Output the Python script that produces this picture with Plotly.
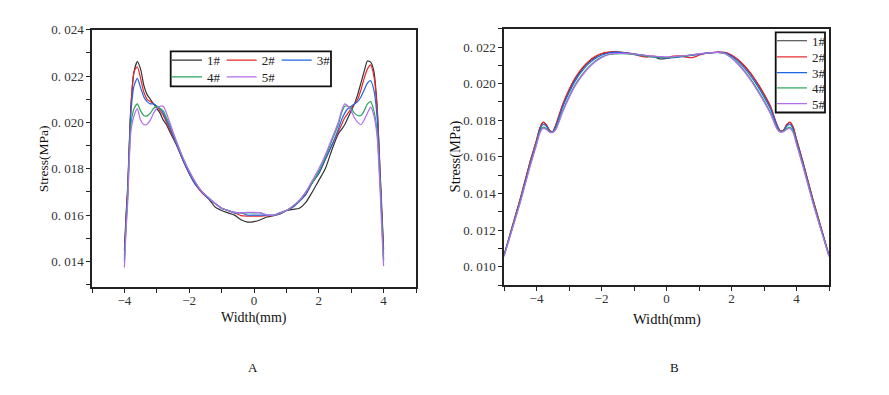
import plotly.graph_objects as go

# page body has an 8px default margin, so the figure is 8px smaller and shifted
PAGE_W, PAGE_H = 889, 395
OFF = 8
W, H = PAGE_W - OFF, PAGE_H - OFF

series_names = ["1#", "2#", "3#", "4#", "5#"]
series_colors = ["#333333", "#e8262b", "#1f64e6", "#2aa55a", "#b26ef0"]

# ---- Panel A ----
x_A = [-4.0, -3.95, -3.9, -3.8, -3.7, -3.6, -3.5, -3.4, -3.3, -3.2, -3.1, -3.0, -2.9, -2.8, -2.7, -2.6,
       -2.4, -2.2, -2.0, -1.8, -1.6, -1.4, -1.2, -1.0, -0.8, -0.6, -0.4, -0.2, 0.0, 0.2, 0.4, 0.6, 0.8,
       1.0, 1.2, 1.4, 1.6, 1.8, 2.0, 2.2, 2.4,
       2.6, 2.7, 2.8, 2.9, 3.0, 3.1, 3.2, 3.3, 3.4, 3.5, 3.6, 3.7, 3.8, 3.9, 3.95, 4.0]

a1 = [0.01446, 0.0160, 0.0172, 0.0207, 0.0222, 0.02262, 0.0223, 0.0216, 0.0212, 0.0210, 0.0208, 0.0206, 0.0204, 0.0201, 0.0199, 0.0196,
      0.01905, 0.0184, 0.0178, 0.01735, 0.0170, 0.0167, 0.01635, 0.0162, 0.0161, 0.0160, 0.0158, 0.0157, 0.01572, 0.0158, 0.01592, 0.01598, 0.0161,
      0.0162, 0.01625, 0.0163, 0.01655, 0.0170, 0.0175, 0.0180, 0.0188,
      0.0195, 0.0197, 0.0199, 0.0202, 0.0205, 0.0208, 0.0212, 0.0217, 0.0222, 0.02265, 0.0226, 0.0222, 0.0207, 0.0176, 0.0161, 0.01451]
a2 = [0.01424, 0.0158, 0.0170, 0.0206, 0.0222, 0.0224, 0.0219, 0.0213, 0.0210, 0.0209, 0.0208, 0.0207, 0.0205, 0.0203, 0.0200, 0.0197,
      0.0191, 0.0184, 0.0178, 0.0173, 0.01695, 0.0167, 0.0165, 0.0163, 0.0162, 0.0161, 0.01598, 0.01596, 0.01596, 0.01596, 0.01598, 0.01598, 0.01605,
      0.0162, 0.01635, 0.0166, 0.0169, 0.0174, 0.0178, 0.0184, 0.0190,
      0.0196, 0.0199, 0.0202, 0.0204, 0.0206, 0.0208, 0.0210, 0.0214, 0.0219, 0.0223, 0.02248, 0.0220, 0.0206, 0.0175, 0.0159, 0.0143]
a3 = [0.0141, 0.0157, 0.0169, 0.0204, 0.0216, 0.0219, 0.0215, 0.0211, 0.0209, 0.0208, 0.0208, 0.0207, 0.0206, 0.0204, 0.0201, 0.0198,
      0.0191, 0.0184, 0.0178, 0.0173, 0.0170, 0.0167, 0.0165, 0.0163, 0.0162, 0.0161, 0.0161, 0.0160, 0.0160, 0.0160, 0.0160, 0.0160, 0.01605,
      0.0162, 0.01635, 0.0166, 0.0169, 0.0174, 0.0178, 0.0184, 0.0190,
      0.0197, 0.0201, 0.0204, 0.0206, 0.0207, 0.0208, 0.0209, 0.0211, 0.0214, 0.0217, 0.0218, 0.0214, 0.0202, 0.0173, 0.0157, 0.0141]
a4 = [0.0140, 0.0155, 0.0167, 0.0199, 0.0206, 0.0208, 0.0205, 0.0203, 0.02028, 0.0204, 0.0206, 0.0207, 0.0206, 0.0205, 0.0202, 0.0199,
      0.0192, 0.0185, 0.0179, 0.0174, 0.0170, 0.01675, 0.0165, 0.0163, 0.0162, 0.01612, 0.0161, 0.0161, 0.0161, 0.0161, 0.0160, 0.0160, 0.01607,
      0.0162, 0.01638, 0.01662, 0.0170, 0.0174, 0.0179, 0.0185, 0.0192,
      0.0199, 0.0204, 0.0207, 0.0207, 0.0206, 0.0204, 0.0203, 0.0203, 0.0205, 0.0208, 0.0209, 0.0205, 0.0196, 0.0171, 0.0156, 0.0140]
a5 = [0.01374, 0.0153, 0.0165, 0.0196, 0.0203, 0.0206, 0.0201, 0.0199, 0.01992, 0.0201, 0.0204, 0.0206, 0.0207, 0.0207, 0.0204, 0.0200,
      0.0192, 0.0185, 0.0179, 0.0174, 0.0170, 0.01675, 0.0165, 0.0163, 0.0162, 0.01612, 0.0161, 0.01612, 0.01612, 0.0161, 0.0160, 0.0160, 0.0161,
      0.0162, 0.0164, 0.01665, 0.0170, 0.0175, 0.0180, 0.0186, 0.0193,
      0.0200, 0.0205, 0.0208, 0.0207, 0.0205, 0.0202, 0.0200, 0.0199, 0.0201, 0.0204, 0.02066, 0.0203, 0.0194, 0.0168, 0.0152, 0.0138]

# ---- Panel B ----
x_B = [-5.0, -4.5, -4.2, -4.0, -3.9, -3.8, -3.7, -3.6, -3.5, -3.4, -3.2, -3.0, -2.8, -2.6, -2.4, -2.2, -2.0,
       -1.8, -1.6, -1.4, -1.2, -1.0, -0.8, -0.6, -0.4, -0.2, 0.0, 0.2, 0.4, 0.6, 0.8, 1.0, 1.2, 1.4, 1.6, 1.8,
       2.0, 2.2, 2.4, 2.6, 2.8, 3.0, 3.2, 3.4, 3.5, 3.6, 3.7, 3.8, 3.9, 4.0, 4.2, 4.5, 5.0]

b1 = [0.01062, 0.01370, 0.01570, 0.01690, 0.01755, 0.01788, 0.01775, 0.01745, 0.01738, 0.01775, 0.01880, 0.01962, 0.02030, 0.02080, 0.02118, 0.02145, 0.02162,
      0.02170, 0.02175, 0.02172, 0.02168, 0.02163, 0.02158, 0.02152, 0.02148, 0.02135, 0.02138, 0.02145, 0.02148, 0.02152, 0.02158, 0.02162, 0.02166, 0.02170, 0.02172, 0.02170,
      0.02155, 0.02130, 0.02095, 0.02052, 0.02000, 0.01940, 0.01875, 0.01770, 0.01742, 0.01745, 0.01775, 0.01788, 0.01760, 0.01695, 0.01570, 0.01370, 0.01062]
b2 = [0.01062, 0.01372, 0.01572, 0.01692, 0.01757, 0.01790, 0.01777, 0.01746, 0.01738, 0.01778, 0.01885, 0.01968, 0.02035, 0.02085, 0.02122, 0.02148, 0.02165,
      0.02172, 0.02174, 0.02170, 0.02165, 0.02160, 0.02150, 0.02145, 0.02150, 0.02145, 0.02142, 0.02150, 0.02152, 0.02145, 0.02142, 0.02155, 0.02165, 0.02170, 0.02173, 0.02171,
      0.02157, 0.02132, 0.02098, 0.02055, 0.02003, 0.01945, 0.01876, 0.01777, 0.01743, 0.01746, 0.01777, 0.01790, 0.01762, 0.01697, 0.01572, 0.01372, 0.01062]
b3 = [0.01060, 0.01362, 0.01560, 0.01680, 0.01745, 0.01778, 0.01768, 0.01742, 0.01736, 0.01768, 0.01870, 0.01950, 0.02018, 0.02068, 0.02108, 0.02136, 0.02155,
      0.02166, 0.02172, 0.02170, 0.02166, 0.02160, 0.02155, 0.02150, 0.02146, 0.02142, 0.02140, 0.02142, 0.02146, 0.02150, 0.02155, 0.02160, 0.02165, 0.02169, 0.02171, 0.02168,
      0.02150, 0.02122, 0.02085, 0.02040, 0.01988, 0.01928, 0.01862, 0.01770, 0.01740, 0.01742, 0.01768, 0.01778, 0.01750, 0.01685, 0.01562, 0.01362, 0.01060]
b4 = [0.01058, 0.01355, 0.01552, 0.01672, 0.01735, 0.01762, 0.01755, 0.01738, 0.01735, 0.01755, 0.01850, 0.01930, 0.01998, 0.02048, 0.02090, 0.02122, 0.02145,
      0.02158, 0.02163, 0.02164, 0.02163, 0.02160, 0.02155, 0.02150, 0.02146, 0.02143, 0.02142, 0.02144, 0.02148, 0.02152, 0.02157, 0.02162, 0.02166, 0.02169, 0.02170, 0.02164,
      0.02142, 0.02110, 0.02070, 0.02022, 0.01968, 0.01908, 0.01842, 0.01758, 0.01738, 0.01740, 0.01755, 0.01762, 0.01738, 0.01675, 0.01553, 0.01355, 0.01058]
b5 = [0.01056, 0.01350, 0.01545, 0.01665, 0.01728, 0.01755, 0.01750, 0.01735, 0.01733, 0.01750, 0.01842, 0.01922, 0.01990, 0.02042, 0.02085, 0.02118, 0.02142,
      0.02158, 0.02165, 0.02166, 0.02165, 0.02162, 0.02158, 0.02154, 0.02150, 0.02148, 0.02146, 0.02147, 0.02150, 0.02154, 0.02158, 0.02163, 0.02167, 0.02170, 0.02171, 0.02165,
      0.02140, 0.02106, 0.02065, 0.02016, 0.01960, 0.01900, 0.01835, 0.01752, 0.01735, 0.01738, 0.01750, 0.01755, 0.01730, 0.01668, 0.01546, 0.01350, 0.01056]

x_ticks = [-4, -2, 0, 2, 4]
yA_ticks = [0.014, 0.016, 0.018, 0.020, 0.022, 0.024]
yA_text = ["0. 014", "0. 016", "0. 018", "0. 020", "0. 022", "0. 024"]
yB_ticks = [0.010, 0.012, 0.014, 0.016, 0.018, 0.020, 0.022]
yB_text = ["0. 010", "0. 012", "0. 014", "0. 016", "0. 018", "0. 020", "0. 022"]

SERIF = "Liberation Serif"

def px_x(p):
    return (p - OFF) / W

def px_y(p):
    return 1 - (p - OFF) / H

fig = go.Figure()

A_series = [a1, a2, a3, a4, a5]
B_series = [b1, b2, b3, b4, b5]
legA = ["legend", "legend2", "legend3", "legend4", "legend5"]
legB = ["legend6", "legend7", "legend8", "legend9", "legend10"]

for i in range(5):
    fig.add_trace(go.Scatter(x=x_A, y=A_series[i], mode="lines", name=series_names[i],
                             line=dict(color=series_colors[i], width=1.2, shape="spline", smoothing=0.6),
                             xaxis="x", yaxis="y", legend=legA[i]))
for i in range(5):
    fig.add_trace(go.Scatter(x=x_B, y=B_series[i], mode="lines", name=series_names[i],
                             line=dict(color=series_colors[i], width=1.2, shape="spline", smoothing=0.6),
                             xaxis="x2", yaxis="y2", legend=legB[i]))

axis_common = dict(showline=True, linecolor="#222", linewidth=1.5, mirror=True,
                   ticks="outside", ticklen=4, tickwidth=1.2, tickcolor="#222",
                   showgrid=False, zeroline=False,
                   tickfont=dict(family=SERIF, size=13, color="#333"))
minor_common = dict(ticks="outside", ticklen=4, tickwidth=1.2, tickcolor="#222")

fig.update_layout(
    width=W, height=H,
    margin=dict(l=0, r=0, t=0, b=0),
    paper_bgcolor="white", plot_bgcolor="white",
    showlegend=True,
    xaxis=dict(domain=[px_x(92), px_x(416)], range=[-5, 5], tickvals=x_ticks,
               minor=dict(dtick=1, tick0=0, **minor_common), ticklabelstandoff=-3,
               anchor="y", **axis_common),
    yaxis=dict(domain=[px_y(285), px_y(23)], range=[0.0129, 0.024], tickvals=yA_ticks, ticktext=yA_text,
               minor=dict(dtick=0.001, tick0=0, **minor_common),
               anchor="x", **axis_common),
    xaxis2=dict(domain=[px_x(504), px_x(829)], range=[-5, 5], tickvals=x_ticks,
                minor=dict(dtick=1, tick0=0, **minor_common), ticklabelstandoff=-3,
                anchor="y2", **axis_common),
    yaxis2=dict(domain=[px_y(283), px_y(22)], range=[0.009, 0.023], tickvals=yB_ticks, ticktext=yB_text,
                minor=dict(dtick=0.001, tick0=0, **minor_common),
                anchor="x2", **axis_common),
)

leg_common = dict(bgcolor="rgba(0,0,0,0)", borderwidth=0, font=dict(family=SERIF, size=13, color="#222"),
                  xanchor="left", yanchor="middle")
# legend rows/columns (page pixel positions of each entry: line start x, row centre y)
legA_pos = [(172, 54), (226.7, 54), (281.7, 54), (172, 71), (226.7, 71)]
legB_pos = [(777, 34.3), (777, 50.7), (777, 66.7), (777, 82.3), (777, 98.3)]
leg_layout = {}
for name, (lx, ly) in zip(legA + legB, legA_pos + legB_pos):
    leg_layout[name] = dict(x=px_x(lx - 5), y=px_y(ly), **leg_common)
fig.update_layout(**leg_layout)

fig.add_shape(type="rect", xref="paper", yref="paper",
              x0=px_x(170.7), x1=px_x(331), y0=px_y(80.7), y1=px_y(45),
              line=dict(color="#111", width=1.8), fillcolor="rgba(0,0,0,0)")
fig.add_shape(type="rect", xref="paper", yref="paper",
              x0=px_x(775.7), x1=px_x(825), y0=px_y(107.3), y1=px_y(25.7),
              line=dict(color="#111", width=1.8), fillcolor="rgba(0,0,0,0)")

def ann(text, x, y, size, angle=0):
    fig.add_annotation(text=text, x=px_x(x), y=px_y(y), xref="paper", yref="paper",
                       showarrow=False, xanchor="center", yanchor="middle", textangle=angle,
                       font=dict(family=SERIF, size=size, color="#111"))

ann("Stress(MPa)", 43, 155, 13.5, -90)
ann("Width(mm)", 254, 317, 14)
ann("Stress(MPa)", 455, 152, 14.5, -90)
ann("Width(mm)", 667, 318, 14.5)
ann("A", 253, 367, 13)
ann("B", 674, 367, 13)

fig.write_html("out.html")
